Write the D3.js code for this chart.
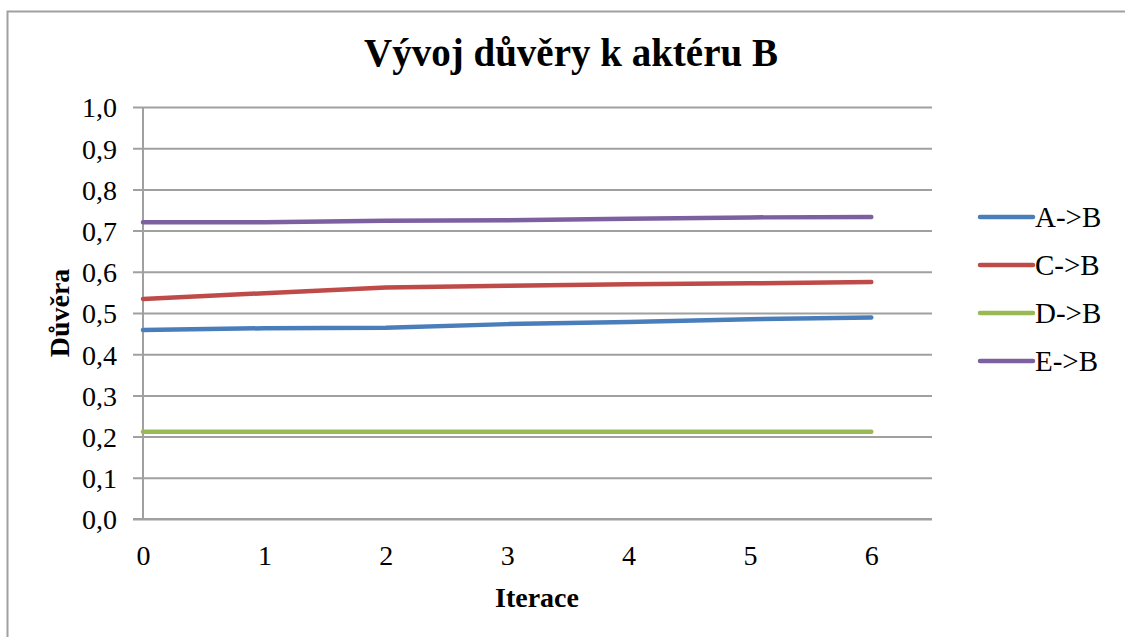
<!DOCTYPE html>
<html>
<head>
<meta charset="utf-8">
<script src="https://cdn.jsdelivr.net/npm/d3@7"></script>
<style>
  html, body { margin: 0; padding: 0; background: #fff; }
  svg { display: block; }
  text { font-family: "Liberation Serif", "Times New Roman", serif; fill: #000; }
</style>
</head>
<body>
<svg id="chart" width="1125" height="637"></svg>
<script>
// Iteration steps on the x axis
const iterations = [0, 1, 2, 3, 4, 5, 6];
const xTicks = [0, 1, 2, 3, 4, 5, 6];
const yTicks = [0, 0.1, 0.2, 0.3, 0.4, 0.5, 0.6, 0.7, 0.8, 0.9, 1.0];

// Trust of each actor towards actor B, per iteration
const seriesNames = ["A->B", "C->B", "D->B", "E->B"];
const trustAB = [0.459, 0.463, 0.464, 0.473, 0.478, 0.485, 0.489];
const trustCB = [0.534, 0.548, 0.562, 0.566, 0.570, 0.572, 0.575];
const trustDB = [0.212, 0.212, 0.212, 0.212, 0.212, 0.212, 0.212];
const trustEB = [0.720, 0.720, 0.724, 0.725, 0.729, 0.732, 0.733];
const seriesColors = ["#4A7EBB", "#BE4B48", "#98B954", "#7D60A0"];

const series = [trustAB, trustCB, trustDB, trustEB].map((vals, i) => ({
  name: seriesNames[i],
  color: seriesColors[i],
  values: vals.map((v, j) => ({ x: iterations[j], y: v }))
}));

const svg = d3.select("#chart");
const W = 1125, H = 637;

// outer chart frame
svg.append("rect")
  .attr("x", 7.5).attr("y", 11.5)
  .attr("width", W + 10).attr("height", H + 10)
  .attr("fill", "#fff").attr("stroke", "#a0a0a0").attr("stroke-width", 2);

const plot = { left: 143, right: 932, top: 107, bottom: 519 };

const x = d3.scaleLinear().domain([0, 6.5]).range([plot.left, plot.right]);
const y = d3.scaleLinear().domain([0, 1]).range([plot.bottom, plot.top]);

const fmt = d => d3.format(".1f")(d).replace(".", ",");

// horizontal gridlines + left tick marks
const yAxis = d3.axisLeft(y)
  .tickValues(yTicks)
  .tickSize(-(plot.right - plot.left))
  .tickFormat(fmt);
const gy = svg.append("g")
  .attr("transform", `translate(${plot.left},0)`)
  .call(yAxis);
gy.select(".domain").remove();
gy.selectAll(".tick line")
  .attr("x1", -10)
  .attr("stroke", "#a0a0a0").attr("stroke-width", 2);
gy.selectAll(".tick text")
  .attr("x", -26)
  .attr("dy", "0.35em")
  .style("font-family", "Liberation Serif")
  .style("font-size", "28px")
  .attr("fill", "#000");

// vertical axis line
svg.append("line")
  .attr("x1", plot.left).attr("x2", plot.left)
  .attr("y1", plot.top).attr("y2", plot.bottom)
  .attr("stroke", "#a0a0a0").attr("stroke-width", 2);

// x axis (labels only, no tick marks)
const xAxis = d3.axisBottom(x).tickValues(xTicks).tickSize(0).tickFormat(d3.format("d"));
const gx = svg.append("g")
  .attr("transform", `translate(0,${plot.bottom})`)
  .call(xAxis);
gx.select(".domain").remove();
gx.selectAll(".tick text")
  .attr("y", 36)
  .attr("dy", "0.35em")
  .style("font-family", "Liberation Serif")
  .style("font-size", "28px")
  .attr("fill", "#000");
svg.append("line")
  .attr("x1", plot.left - 10).attr("x2", plot.right)
  .attr("y1", plot.bottom).attr("y2", plot.bottom)
  .attr("stroke", "#a0a0a0").attr("stroke-width", 2);

// series lines
const line = d3.line().x(d => x(d.x)).y(d => y(d.y));
svg.append("g").selectAll("path")
  .data(series)
  .join("path")
  .attr("d", d => line(d.values))
  .attr("fill", "none")
  .attr("stroke", d => d.color)
  .attr("stroke-width", 4.5)
  .attr("stroke-linecap", "round")
  .attr("stroke-linejoin", "round");

// title
svg.append("text")
  .attr("x", 571).attr("y", 66)
  .attr("text-anchor", "middle")
  .style("font-size", "39px")
  .style("font-weight", "bold")
  .text("Vývoj důvěry k aktéru B");

// axis titles
svg.append("text")
  .attr("x", 537).attr("y", 607)
  .attr("text-anchor", "middle")
  .style("font-size", "28px")
  .style("font-weight", "bold")
  .text("Iterace");

svg.append("text")
  .attr("transform", "translate(69,313) rotate(-90)")
  .attr("text-anchor", "middle")
  .style("font-size", "28px")
  .style("font-weight", "bold")
  .text("Důvěra");

// legend
const legend = svg.append("g").attr("transform", "translate(980,217)");
const li = legend.selectAll("g").data(series).join("g")
  .attr("transform", (d, i) => `translate(0,${i * 48})`);
li.append("line")
  .attr("x1", 0).attr("x2", 53)
  .attr("stroke", d => d.color)
  .attr("stroke-width", 4.5)
  .attr("stroke-linecap", "round");
li.append("text")
  .attr("x", 55).attr("dy", "0.35em")
  .style("font-size", "29px")
  .text(d => d.name);
</script>
</body>
</html>
